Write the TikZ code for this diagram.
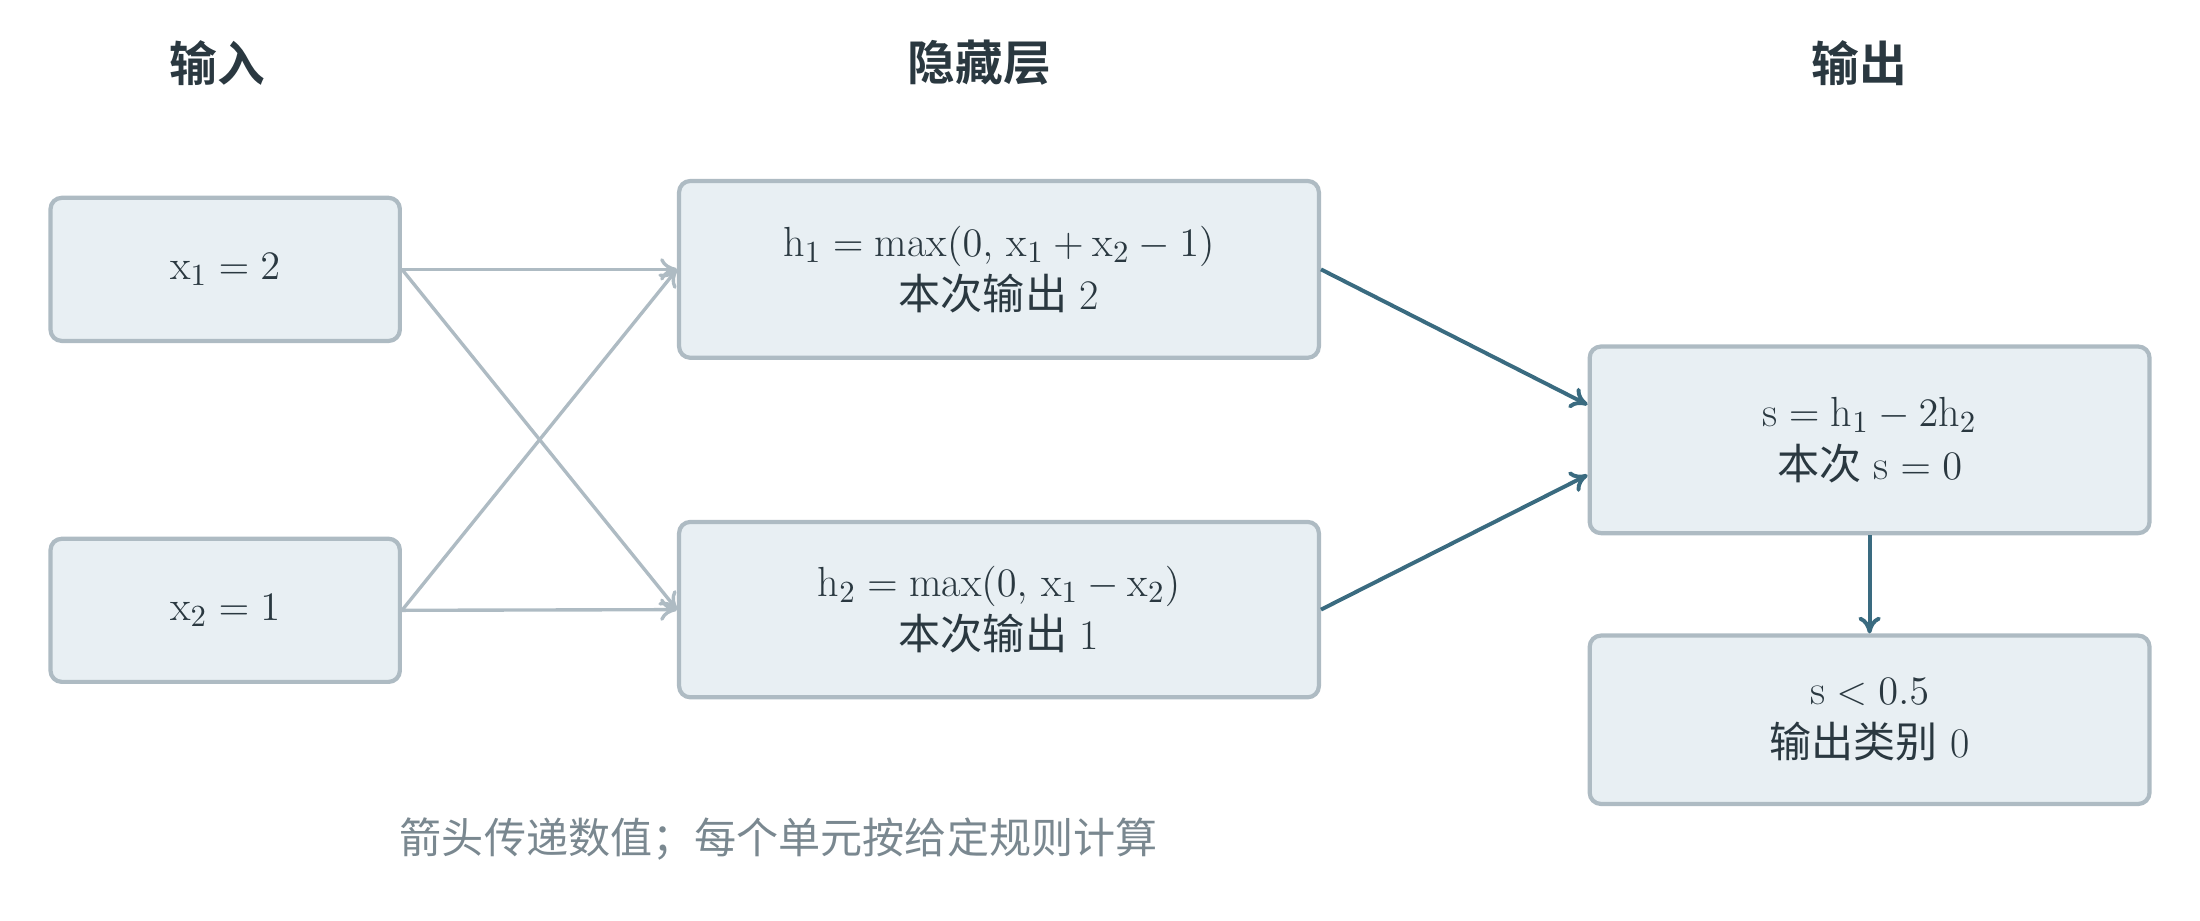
\documentclass[tikz,border=0pt]{standalone}
\usepackage{fontspec}
\newfontfamily\cjk{Noto Sans CJK SC}
\newfontfamily\cjkb{Noto Sans CJK SC Bold}
\usetikzlibrary{arrows.meta}
\definecolor{boxfill}{HTML}{E8EFF3}
\definecolor{boxline}{HTML}{AEBBC3}
\definecolor{teal}{HTML}{3A6B80}
\definecolor{ink}{HTML}{2A3840}
\definecolor{note}{HTML}{7A8890}
\begin{document}
\begin{tikzpicture}[x=0.5pt,y=-0.5pt,line join=round,
  unit/.style={draw=boxline,fill=boxfill,line width=1.5pt,rounded corners=4pt,
    text=ink,align=center,font=\fontsize{15}{19}\selectfont},
  title/.style={text=ink,font=\cjkb\fontsize{17}{20}\selectfont},
  weak/.style={->,draw=boxline,line width=1.2pt,>={To[length=6pt,width=8pt]}},
  strong/.style={->,draw=teal,line width=1.4pt,>={To[length=6pt,width=8pt]}}]
\useasboundingbox (0,0) rectangle (1568,656);
%%
  \node (TIn) at (155,45) [title] {输入};
  \node (THid) at (698,45) [title] {隐藏层};
  \node (TOut) at (1325,45) [title] {输出};
  \node (X1) at (160.5,192) [unit,minimum width=124.5pt,minimum height=51pt] {$\mathrm{x}_1 = 2$};
  \node (X2) at (160.5,435) [unit,minimum width=124.5pt,minimum height=51pt] {$\mathrm{x}_2 = 1$};
  \node (H1) at (712,192) [unit,minimum width=228pt,minimum height=63pt] {$\mathrm{h}_1 = \mathrm{max}(0,\, \mathrm{x}_1 + \mathrm{x}_2 - 1)$\\{\cjk 本次输出} 2};
  \node (H2) at (712,434.5) [unit,minimum width=228pt,minimum height=62.5pt] {$\mathrm{h}_2 = \mathrm{max}(0,\, \mathrm{x}_1 - \mathrm{x}_2)$\\{\cjk 本次输出} 1};
  \node (S) at (1332.5,313.5) [unit,minimum width=199.5pt,minimum height=66.5pt] {$\mathrm{s} = \mathrm{h}_1 - 2\mathrm{h}_2$\\{\cjk 本次} $\mathrm{s} = 0$};
  \node (C) at (1332.5,513) [unit,minimum width=199.5pt,minimum height=60pt] {$\mathrm{s} < 0.5$\\{\cjk 输出类别} 0};
  \node (Note) at (555,598) [text=note,font=\cjk\fontsize{15}{18}\selectfont] {箭头传递数值；每个单元按给定规则计算};
  \draw [weak] (X1.east) -- (H1.west);
  \draw [weak] (X1.east) -- (H2.west);
  \draw [weak] (X2.east) -- (H1.west);
  \draw [weak] (X2.east) -- (H2.west);
  \draw [strong] (H1.east) -- ([yshift=12.5pt]S.west);
  \draw [strong] (H2.east) -- ([yshift=-12.5pt]S.west);
  \draw [strong] (S.south) -- (C.north);
%
\end{tikzpicture}
\end{document}
